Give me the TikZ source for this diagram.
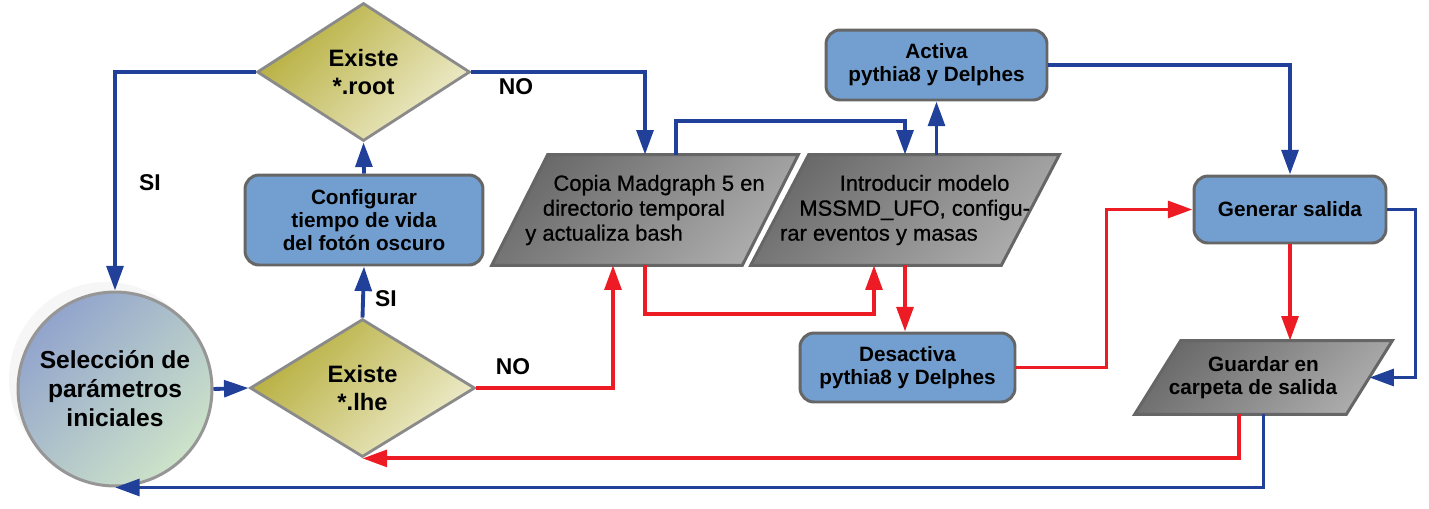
\documentclass[tikz,border=0pt]{standalone}
\usepackage{fontspec}
\setmainfont{Liberation Sans}
\newfontfamily\iofont[RawFeature={embolden=0.7}]{Liberation Sans}
\usetikzlibrary{positioning,shapes.geometric,arrows.meta,backgrounds,calc,shadows}

\definecolor{flowblue}{RGB}{33,64,154}
\definecolor{flowred}{RGB}{237,28,36}
\definecolor{boxfill}{RGB}{114,159,207}
\definecolor{boxline}{RGB}{102,102,102}
\definecolor{diamdark}{RGB}{181,173,58}
\definecolor{diamlight}{RGB}{239,237,207}
\definecolor{diamline}{RGB}{138,138,138}
\definecolor{pardark}{RGB}{106,106,106}
\definecolor{parlight}{RGB}{172,172,172}
\definecolor{circdark}{RGB}{146,164,204}
\definecolor{circlight}{RGB}{205,227,201}
\definecolor{circline}{RGB}{150,150,150}

\begin{document}
\begin{tikzpicture}[x=0.02cm, y=-0.02cm,
  startnode/.style = {circle, minimum size=3.88cm, draw=circline, line width=1.7pt,
    top color=circdark, bottom color=circlight, shading angle=45, align=center,
    drop shadow={shadow xshift=-0.18cm, shadow yshift=0.2cm, opacity=0.035, fill=black},
    font=\fontsize{14}{16.5}\selectfont\bfseries},
  query/.style = {diamond, draw=diamline, line width=1.6pt, inner sep=0pt,
    top color=diamdark, bottom color=diamlight, shading angle=45, align=center,
    font=\fontsize{13.5}{16}\selectfont\bfseries},
  boxstep/.style = {draw=boxline, line width=1.7pt, fill=boxfill, rounded corners=8pt,
    align=center, font=\fontsize{11.8}{13}\selectfont\bfseries},
  iobox/.style = {inner sep=0pt, align=left, font=\fontsize{12.5}{14.2}\selectfont\iofont},
  paroutline/.style = {draw=boxline, line width=1.7pt, top color=pardark,
    bottom color=parlight, shading angle=45},
  blueline/.style = {draw=flowblue, line width=2.2pt, -{Triangle[length=14pt,width=9.5pt]}},
  redline/.style = {blueline, draw=flowred},
  answer/.style = {font=\fontsize{13}{15}\selectfont\bfseries}
]
\useasboundingbox (0,0) rectangle (1429,508);

% nodes
\node[startnode] (sel) at (115,389) {Selección de\\parámetros\\iniciales};
\node[query, minimum width=4.26cm, minimum height=2.76cm] (root) at (363.5,72) {Existe\\*.root};
\node[query, minimum width=4.5cm, minimum height=2.76cm] (lhe) at (362.5,388) {Existe\\*.lhe};
\node[boxstep, minimum width=4.76cm, minimum height=1.8cm] (vida) at (364,220) {Configurar\\tiempo de vida\\del fotón oscuro};
\node[iobox, minimum width=5cm, minimum height=2.2cm] (copia) at (645,210)
  {\hspace*{16pt}Copia Madgraph 5 en\\\hspace*{10pt}directorio temporal\\y actualiza bash};
\node[iobox, minimum width=4.96cm, minimum height=2.2cm] (modelo) at (905,210)
  {\hspace*{34pt}Introducir modelo\\\hspace*{11pt}MSSMD\_UFO, configu-\\rar eventos y masas};
\node[boxstep, minimum width=4.42cm, minimum height=1.4cm] (activa) at (936.5,65) {Activa\\pythia8 y Delphes};
\node[boxstep, minimum width=4.3cm, minimum height=1.38cm] (desactiva) at (907.5,367.5) {Desactiva\\pythia8 y Delphes};
\node[boxstep, minimum width=3.84cm, minimum height=1.34cm] (salida) at (1290,209.5) {Generar salida};
\node[iobox, align=center, font=\fontsize{11.8}{13}\selectfont\bfseries, minimum width=4.22cm,
  minimum height=1.46cm] (guardar) at (1263.5,377.5) {Guardar en\\carpeta de salida\hspace*{12pt}};

% parallelograms behind the text
\begin{scope}[on background layer]
  \foreach \n/\s in {copia/0.56cm, modelo/0.58cm, guardar/0.46cm}
    \path[paroutline] ($(\n.south west)+(-\s,0pt)$) -- ($(\n.south east)+(-\s,0pt)$)
      -- ($(\n.north east)+(\s,0pt)$) -- ($(\n.north west)+(\s,0pt)$) -- cycle;
\end{scope}

% connectors
\draw[blueline] (root.west) -| (sel.north);
\draw[blueline] (root.east) -| (copia.north);
\draw[blueline] (vida.north) -- (root.south);
\draw[blueline] (lhe.north) -- (vida.south);
\draw[blueline] (sel.east) -- (lhe.west);
\draw[redline] (lhe.east) -| ($(copia.south)+(-32,0)$);
\draw[blueline] ($(copia.north)+(31,0)$) -- ++(0,-34) -| (modelo.north);
\draw[blueline] (activa.south |- modelo.north) -- (activa.south);
\draw[redline] (copia.south) -- ++(0,49) -| ($(modelo.south)+(-31,0)$);
\draw[redline] (modelo.south) -- (modelo.south |- desactiva.north);
\draw[blueline] (activa.east) -| (salida.north);
\draw[redline] (desactiva.east) -- ++(90,0) |- (salida.west);
\draw[blueline] (salida.east) -- ++(28,0) |- (guardar.east);
\draw[redline] (salida.south) -- (salida.south |- guardar.north);
\draw[redline] ($(guardar.south)+(-24.5,0)$) |- (lhe.south);
\draw[blueline] (guardar.south) |- (sel.south);

% answers
\node[answer] (siroot) at (150,183) {SI};
\node[answer] (noroot) at (516,87) {NO};
\node[answer] (silhe) at (386,299) {SI};
\node[answer] (nolhe) at (513,367) {NO};
\end{tikzpicture}
\end{document}
